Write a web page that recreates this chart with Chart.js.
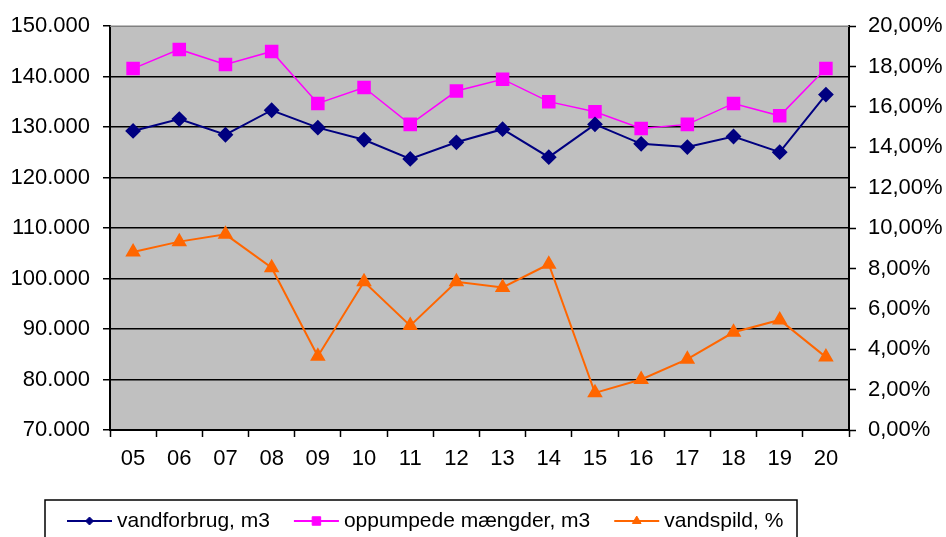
<!DOCTYPE html>
<html>
<head>
<meta charset="utf-8">
<script src="https://cdn.jsdelivr.net/npm/chart.js@4.4.7/dist/chart.umd.min.js"></script>
<style>
  html, body { margin: 0; padding: 0; background: #fff; }
  canvas { display: block; }
</style>
</head>
<body>
<canvas id="chart" width="946" height="537"></canvas>
<script>
const years = ['05', '06', '07', '08', '09', '10', '11', '12', '13', '14', '15', '16', '17', '18', '19', '20'];
const vandforbrug = [129250, 131600, 128500, 133350, 129900, 127500, 123700, 127000, 129600, 124050, 130550, 126700, 126050, 128150, 125050, 136450];
const oppumpede = [141600, 145400, 142400, 145000, 134700, 137850, 130550, 137150, 139500, 135050, 133050, 129750, 130550, 134700, 132250, 141600];
const vandspild = [0.0882, 0.0933, 0.0969, 0.0804, 0.0365, 0.0734, 0.0517, 0.0734, 0.0706, 0.0821, 0.0184, 0.0250, 0.0351, 0.0484, 0.0545, 0.0361];

const FONT = '"Liberation Sans", Arial, sans-serif';

function fmtThousands(v) {
  return String(Math.round(v)).replace(/\B(?=(\d{3})+(?!\d))/g, '.');
}
function fmtPct(v) {
  return (v * 100).toFixed(2).replace('.', ',') + '%';
}

// grey plot background + grey top border
const plotBg = {
  id: 'plotBg',
  beforeDraw(chart) {
    const { ctx, chartArea: a } = chart;
    ctx.save();
    ctx.fillStyle = '#c0c0c0';
    ctx.fillRect(a.left, a.top, a.right - a.left, a.bottom - a.top);
    ctx.restore();
  },
  afterDraw(chart) {
    const { ctx, chartArea: a } = chart;
    ctx.save();
    ctx.strokeStyle = '#808080';
    ctx.lineWidth = 1.5;
    ctx.beginPath();
    ctx.moveTo(a.left, a.top);
    ctx.lineTo(a.right, a.top);
    ctx.stroke();
    ctx.restore();
  }
};

// Excel-style legend box with line + marker samples
const boxLegend = {
  id: 'boxLegend',
  afterDraw(chart) {
    const ctx = chart.ctx;
    const y = 521;
    ctx.save();
    ctx.strokeStyle = '#000';
    ctx.lineWidth = 1.5;
    ctx.strokeRect(45, 500, 752, 60);
    ctx.font = '21px ' + FONT;
    ctx.textBaseline = 'middle';
    let x = 67;
    chart.data.datasets.forEach(ds => {
      ctx.strokeStyle = ds.borderColor;
      ctx.fillStyle = ds.pointBackgroundColor;
      ctx.lineWidth = 2;
      ctx.beginPath();
      ctx.moveTo(x, y);
      ctx.lineTo(x + 45, y);
      ctx.stroke();
      ctx.lineWidth = 1;
      Chart.helpers.drawPoint(ctx, {
        pointStyle: ds.pointStyle,
        radius: ds.legendRadius,
        rotation: 0,
        borderWidth: 1
      }, x + 22.5, y);
      ctx.fillStyle = '#000';
      ctx.fillText(ds.label, x + 50, y);
      x += 50 + ctx.measureText(ds.label).width + 24;
    });
    ctx.restore();
  }
};

new Chart(document.getElementById('chart'), {
  type: 'line',
  data: {
    labels: years,
    datasets: [
      {
        label: 'vandforbrug, m3',
        data: vandforbrug,
        yAxisID: 'y',
        borderColor: '#000080',
        backgroundColor: '#000080',
        pointBackgroundColor: '#000080',
        pointStyle: 'rectRot',
        pointRadius: 6.5,
        legendRadius: 4,
        borderWidth: 2
      },
      {
        label: 'oppumpede mængder, m3',
        data: oppumpede,
        yAxisID: 'y',
        borderColor: '#ff00ff',
        backgroundColor: '#ff00ff',
        pointBackgroundColor: '#ff00ff',
        pointStyle: 'rect',
        pointRadius: 8.5,
        legendRadius: 6,
        borderWidth: 1.5
      },
      {
        label: 'vandspild, %',
        data: vandspild,
        yAxisID: 'y1',
        borderColor: '#ff6600',
        backgroundColor: '#ff6600',
        pointBackgroundColor: '#ff6600',
        pointStyle: 'triangle',
        pointRadius: 7,
        legendRadius: 5,
        borderWidth: 2
      }
    ]
  },
  options: {
    responsive: false,
    animation: false,
    tension: 0,
    layout: { padding: { top: 24, left: 0, right: 0, bottom: 0 } },
    plugins: {
      legend: { display: false },
      tooltip: { enabled: false }
    },
    scales: {
      x: {
        offset: true,
        grid: { offset: true, drawOnChartArea: false, tickLength: 7, tickColor: '#000', tickWidth: 1.5 },
        border: { display: true, color: '#000', width: 2 },
        ticks: { color: '#000', font: { family: FONT, size: 22 }, padding: 9, maxRotation: 0 },
        afterFit(s) { s.height = 107; }
      },
      y: {
        position: 'left',
        min: 70000,
        max: 150000,
        grid: {
          color: c => (c.tick.value > 70000 && c.tick.value < 150000) ? '#000' : 'rgba(0,0,0,0)',
          lineWidth: 1.5,
          tickLength: 7,
          tickColor: '#000',
          tickWidth: 1.5
        },
        border: { display: true, color: '#000', width: 2 },
        ticks: {
          stepSize: 10000,
          color: '#000',
          padding: 13,
          font: { family: FONT, size: 22 },
          callback: v => fmtThousands(v)
        },
        afterFit(s) { s.width = 110; }
      },
      y1: {
        position: 'right',
        min: 0,
        max: 0.2,
        grid: { drawOnChartArea: false, tickLength: 7, tickColor: '#000', tickWidth: 1.5 },
        border: { display: true, color: '#000', width: 2 },
        ticks: {
          stepSize: 0.02,
          color: '#000',
          padding: 12,
          font: { family: FONT, size: 22 },
          callback: v => fmtPct(v)
        },
        afterFit(s) { s.width = 97; }
      }
    }
  },
  plugins: [plotBg, boxLegend]
});
</script>
</body>
</html>
